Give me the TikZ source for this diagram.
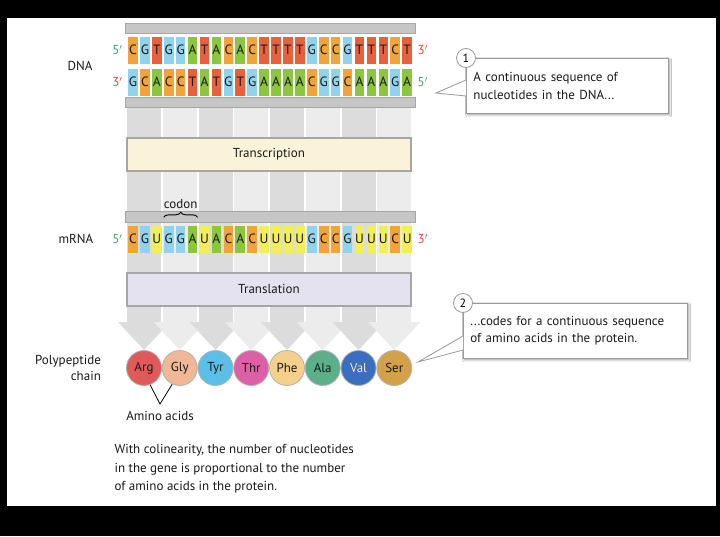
\documentclass[tikz,border=0pt]{standalone}
\usepackage{fontspec}
\setmainfont{PT Sans}
\usetikzlibrary{positioning,calc,decorations.pathreplacing,shadows.blur}
\definecolor{baseC}{HTML}{F2A33A}
\definecolor{baseG}{HTML}{8FD3EC}
\definecolor{baseT}{HTML}{E8603C}
\definecolor{baseA}{HTML}{8CC63F}
\definecolor{baseU}{HTML}{F2EE5A}
\definecolor{fivep}{HTML}{3DA35D}
\definecolor{threep}{HTML}{E2473F}
\definecolor{stripeA}{HTML}{DCDCDC}
\definecolor{stripeB}{HTML}{ECECEC}
\definecolor{transcrfill}{HTML}{FBF3D9}
\definecolor{translfill}{HTML}{E4E2F0}
\definecolor{dark}{HTML}{1A1A1A}
\tikzset{
    % nucleotide letter box
    base/.style={
        rectangle,
        minimum width=9.6pt,
        minimum height=27pt,
        inner sep=0pt,
        fill=base#1,
        font=\fontsize{13.5}{13.5}\selectfont,
        text=dark
    },
    % backbone bar
    backbone/.style={
        fill=gray!45,
        draw=gray!70
    },
    % process box
    process/.style={
        rectangle,
        minimum width=284pt,
        minimum height=33pt,
        draw=gray!70,
        line width=2pt,
        fill=#1,
        font=\fontsize{13}{15}\selectfont,
        text=dark
    },
    % amino acid ball
    amino/.style={
        circle,
        minimum size=35pt,
        inner sep=0pt,
        draw=gray!60,
        line width=0.8pt,
        fill=#1,
        font=\fontsize{13}{15}\selectfont,
        text=dark
    },
    % callout box
    callout/.style={
        rectangle,
        draw=gray!80,
        line width=0.8pt,
        fill=white,
        align=left,
        text width=#1,
        inner sep=7pt,
        font=\fontsize{13}{17.5}\selectfont,
        text=dark,
        blur shadow={shadow blur steps=5, shadow xshift=1.2pt, shadow yshift=-1.5pt}
    },
    step num/.style={
        circle,
        draw=gray!80,
        line width=0.8pt,
        fill=white,
        minimum size=19pt,
        inner sep=0pt,
        font=\fontsize{12}{12}\selectfont
    },
    side label/.style={
        font=\fontsize{13}{16}\selectfont,
        text=dark
    },
    prime/.style={
        font=\fontsize{13}{13}\selectfont,
        text=#1
    }
}
\begin{document}
\begin{tikzpicture}[x=1pt,y=-1pt]
    % frame
    \fill[black] (0,0) rectangle (720,536);
    \fill[white] (7,18) rectangle (716,506);
    \useasboundingbox (0,0) rectangle (720,536);

    % codon stripes with arrowheads
    \foreach \i in {0,...,7} {
        \pgfmathsetmacro{\cx}{144+35.75*\i}
        \ifodd\i \def\sc{stripeB}\else \def\sc{stripeA}\fi
        \fill[\sc] (\cx-17,108) rectangle (\cx+17,323);
    }
    \foreach \i in {0,...,7} {
        \pgfmathsetmacro{\cx}{144+35.75*\i}
        \ifodd\i \def\sc{stripeB}\else \def\sc{stripeA}\fi
        \fill[\sc] (\cx-26,322) -- (\cx+26,322) -- (\cx,350) -- cycle;
    }

    % DNA
    \fill[backbone] (125,23) rectangle (415,33);
    \fill[backbone] (125,97) rectangle (415,107);
    \foreach \b [count=\j from 0] in {C,G,T,G,G,A,T,A,C,A,C,T,T,T,T,G,C,C,G,T,T,T,C,T}
        \node[base=\b] (top\j) at (133+11.92*\j,50) {\b};
    \foreach \b [count=\j from 0] in {G,C,A,C,C,T,A,T,G,T,G,A,A,A,A,C,G,G,C,A,A,A,G,A}
        \node[base=\b] (bot\j) at (133+11.92*\j,82) {\b};
    \node[side label] (dna) at (80,66) {DNA};
    \node[prime=fivep, left=2pt of top0] {5$'$};
    \node[prime=threep, right=2pt of top23] {3$'$};
    \node[prime=threep, left=2pt of bot0] {3$'$};
    \node[prime=fivep, right=2pt of bot23] (dnaend) {5$'$};

    % Transcription
    \node[process=transcrfill] (transcr) at (269,154) {Transcription};

    % mRNA
    \fill[backbone] (125,211) rectangle (415,222);
    \foreach \b [count=\j from 0] in {C,G,U,G,G,A,U,A,C,A,C,U,U,U,U,G,C,C,G,U,U,U,C,U}
        \node[base=\b] (rna\j) at (133+11.92*\j,239) {\b};
    \node[side label] (mrna) at (76,239) {mRNA};
    \node[prime=fivep, left=2pt of rna0] {5$'$};
    \node[prime=threep, right=2pt of rna23] {3$'$};
    \draw[decorate, decoration={brace, amplitude=5pt}, line width=0.9pt]
        ($(rna3.north west)+(0,-8)$) -- ($(rna5.north east)+(0,-8)$)
        node[midway, above=5pt, side label] (codon) {codon};

    % Translation
    \node[process=translfill] (transl) at (269,289) {Translation};

    % polypeptide
    \foreach \aa/\col [count=\k from 0] in {Arg/E05A5A,Gly/F0B896,Tyr/5BC0E8,Thr/DD5FA6,Phe/F5D08A,Ala/5BB08A,Val/3A6FBF,Ser/D4A04A} {
        \definecolor{aacol}{HTML}{\col}
        \node[amino=aacol] (aa\k) at (144+35.75*\k,368) {\aa};
    }
    \node[text=white, font=\fontsize{13}{15}\selectfont] at (aa6) {Val};
    \node[side label, align=right] (poly) at (68,368) {Polypeptide\\chain};

    \node[side label] (amlabel) at (160,416) {Amino acids};
    \coordinate (vtip) at (160,404);
    \draw[line width=0.8pt] (aa0.-70) -- (vtip) -- (aa1.-115);

    % caption
    \node[side label, align=left, anchor=north west, font=\fontsize{13}{18.5}\selectfont] (caption) at (111,441)
        {With colinearity, the number of nucleotides\\in the gene is proportional to the number\\of amino acids in the protein.};

    % callout 1
    \node[callout=188pt, minimum height=55pt, anchor=north west] (note1) at (466,58)
        {A continuous sequence of\\nucleotides in the DNA...};
    \coordinate (p1) at (436,93);
    \fill[white] (note1.west|-0,80) -- (p1) -- (note1.west|-0,96) -- cycle;
    \draw[gray!80, line width=0.8pt] (note1.west|-0,80) -- (p1) -- (note1.west|-0,96);
    \node[step num] (num1) at (note1.north west) {1};

    % callout 2
    \node[callout=210pt, minimum height=55pt, anchor=north west] (note2) at (463,303)
        {...codes for a continuous sequence\\of amino acids in the protein.};
    \coordinate (p2) at (418,362);
    \fill[white] (note2.west|-0,336) -- (p2) -- (note2.west|-0,350) -- cycle;
    \draw[gray!80, line width=0.8pt] (note2.west|-0,336) -- (p2) -- (note2.west|-0,350);
    \node[step num] (num2) at (note2.north west) {2};
\end{tikzpicture}
\end{document}
